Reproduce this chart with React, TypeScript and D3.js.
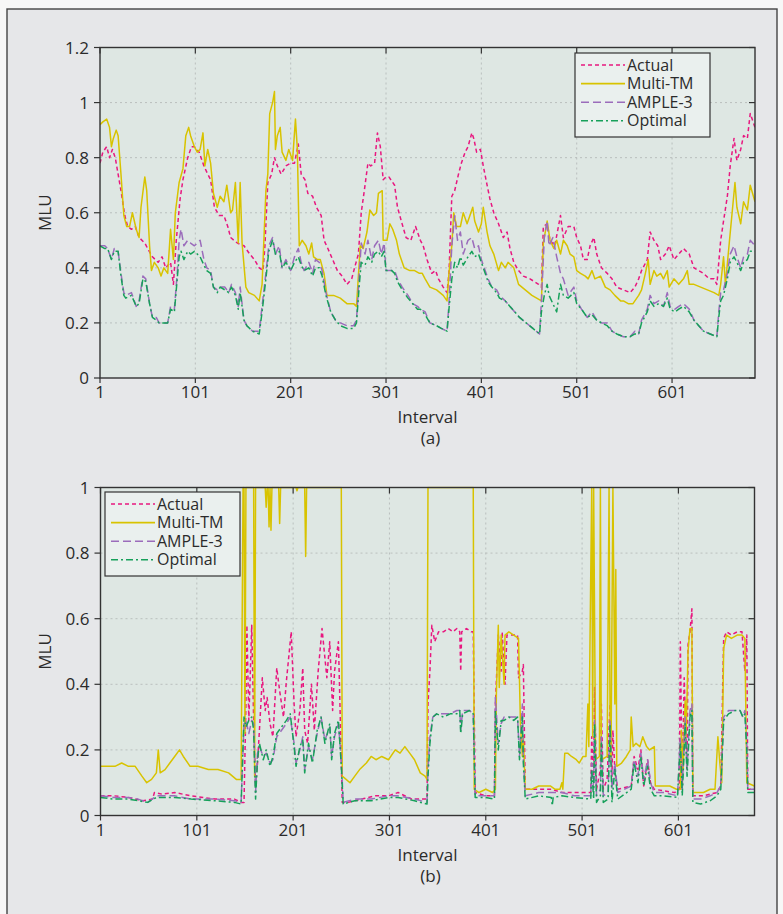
import React from 'react'
import { scaleLinear, line } from 'd3'

type Pt = [number, number]

const seriesNames = ['Actual', 'Multi-TM', 'AMPLE-3', 'Optimal']
const xTicks = [1, 101, 201, 301, 401, 501, 601]
const yTicksA = [0, 0.2, 0.4, 0.6, 0.8, 1, 1.2]
const yTicksB = [0, 0.2, 0.4, 0.6, 0.8, 1]

// panel (a): [interval, MLU]
const actualA: Pt[] = [[1,0.78],[4,0.82],[8,0.84],[11,0.80],[14,0.83],[17,0.80],[20,0.74],[23,0.68],[27,0.59],[30,0.55],[34,0.54],[38,0.55],[42,0.51],[48,0.49],[51,0.47],[56,0.44],[62,0.42],[66,0.44],[70,0.40],[75,0.42],[78,0.34],[81,0.50],[85,0.65],[88,0.72],[93,0.80],[97,0.84],[100,0.84],[105,0.82],[110,0.77],[114,0.74],[117,0.72],[121,0.62],[126,0.59],[131,0.59],[135,0.55],[138,0.51],[145,0.49],[152,0.48],[158,0.45],[163,0.43],[168,0.40],[172,0.39],[174,0.48],[177,0.71],[181,0.74],[184,0.80],[187,0.77],[191,0.74],[196,0.77],[201,0.78],[205,0.78],[209,0.85],[212,0.74],[216,0.72],[219,0.67],[224,0.66],[228,0.62],[233,0.59],[236,0.50],[240,0.47],[245,0.43],[250,0.39],[255,0.37],[260,0.34],[265,0.36],[268,0.40],[272,0.45],[275,0.60],[279,0.70],[282,0.78],[285,0.77],[289,0.78],[292,0.89],[295,0.84],[298,0.72],[301,0.73],[304,0.73],[310,0.70],[313,0.62],[317,0.57],[322,0.51],[327,0.50],[332,0.55],[337,0.50],[340,0.48],[344,0.43],[349,0.38],[353,0.39],[356,0.36],[361,0.33],[365,0.31],[367,0.38],[370,0.66],[373,0.68],[377,0.74],[380,0.78],[384,0.82],[387,0.84],[391,0.89],[393,0.87],[396,0.82],[400,0.83],[403,0.77],[407,0.70],[410,0.65],[414,0.60],[419,0.56],[424,0.51],[428,0.53],[431,0.47],[435,0.42],[440,0.39],[445,0.37],[452,0.36],[461,0.34],[464,0.33],[466,0.55],[470,0.56],[473,0.50],[478,0.48],[484,0.59],[487,0.51],[492,0.55],[498,0.55],[501,0.51],[505,0.48],[508,0.43],[512,0.43],[515,0.48],[519,0.51],[522,0.45],[527,0.40],[533,0.38],[538,0.36],[543,0.33],[550,0.32],[557,0.31],[562,0.33],[566,0.36],[569,0.39],[575,0.43],[578,0.53],[582,0.50],[586,0.48],[589,0.43],[594,0.45],[598,0.48],[603,0.43],[608,0.45],[613,0.47],[619,0.45],[624,0.40],[629,0.39],[634,0.38],[640,0.36],[645,0.36],[648,0.34],[652,0.50],[655,0.57],[659,0.66],[662,0.77],[666,0.87],[669,0.79],[673,0.83],[676,0.88],[680,0.87],[683,0.96],[688,0.91]]
const multiTmA: Pt[] = [[1,0.92],[4,0.93],[8,0.94],[11,0.91],[13,0.84],[15,0.87],[18,0.90],[20,0.88],[23,0.74],[26,0.59],[29,0.55],[32,0.55],[35,0.60],[39,0.54],[42,0.51],[44,0.62],[48,0.73],[50,0.68],[53,0.48],[55,0.39],[58,0.42],[62,0.40],[65,0.37],[68,0.40],[72,0.38],[75,0.54],[78,0.43],[80,0.60],[84,0.71],[88,0.76],[91,0.88],[94,0.91],[96,0.88],[100,0.84],[103,0.82],[106,0.83],[109,0.89],[111,0.77],[114,0.83],[117,0.78],[120,0.67],[124,0.62],[127,0.66],[131,0.64],[134,0.70],[138,0.60],[140,0.61],[143,0.71],[146,0.49],[148,0.71],[150,0.49],[154,0.33],[157,0.31],[163,0.30],[168,0.28],[171,0.34],[175,0.68],[177,0.74],[179,0.96],[182,1.00],[184,1.04],[185,0.83],[187,0.88],[190,0.91],[192,0.82],[196,0.79],[199,0.83],[203,0.79],[206,0.94],[208,0.83],[210,0.48],[213,0.50],[217,0.48],[220,0.45],[223,0.49],[225,0.44],[229,0.43],[232,0.43],[236,0.38],[239,0.30],[246,0.30],[253,0.29],[260,0.27],[267,0.27],[270,0.26],[274,0.48],[277,0.47],[281,0.53],[284,0.61],[288,0.59],[291,0.60],[293,0.67],[297,0.68],[298,0.50],[302,0.50],[305,0.56],[308,0.54],[312,0.50],[315,0.45],[320,0.40],[326,0.39],[331,0.39],[336,0.38],[339,0.38],[342,0.36],[347,0.33],[354,0.32],[361,0.30],[365,0.28],[367,0.38],[370,0.48],[372,0.60],[375,0.55],[379,0.55],[382,0.60],[386,0.56],[389,0.59],[392,0.62],[394,0.57],[398,0.53],[401,0.56],[403,0.62],[407,0.53],[410,0.48],[414,0.45],[419,0.39],[422,0.42],[426,0.40],[429,0.42],[435,0.40],[440,0.34],[447,0.32],[454,0.30],[459,0.29],[464,0.28],[466,0.49],[470,0.57],[473,0.50],[477,0.47],[480,0.50],[484,0.45],[487,0.50],[491,0.48],[494,0.45],[498,0.44],[501,0.39],[505,0.38],[510,0.37],[513,0.36],[517,0.39],[520,0.36],[526,0.37],[531,0.33],[536,0.32],[541,0.30],[547,0.28],[550,0.28],[555,0.27],[560,0.27],[566,0.30],[569,0.32],[573,0.38],[576,0.43],[578,0.34],[582,0.39],[585,0.37],[589,0.38],[592,0.36],[596,0.39],[598,0.33],[603,0.36],[608,0.34],[613,0.36],[617,0.39],[619,0.34],[624,0.34],[631,0.33],[638,0.32],[645,0.31],[650,0.30],[652,0.34],[655,0.44],[657,0.34],[661,0.49],[664,0.60],[667,0.71],[669,0.62],[673,0.56],[676,0.64],[680,0.61],[683,0.70],[688,0.64]]
const ampleA: Pt[] = [[1,0.48],[6,0.48],[9,0.47],[13,0.43],[16,0.47],[20,0.46],[23,0.38],[26,0.31],[28,0.30],[34,0.31],[39,0.26],[42,0.28],[46,0.37],[49,0.36],[53,0.27],[56,0.22],[60,0.22],[63,0.20],[68,0.20],[72,0.20],[75,0.26],[79,0.25],[82,0.38],[84,0.50],[86,0.54],[89,0.48],[93,0.50],[96,0.49],[100,0.48],[103,0.49],[106,0.50],[110,0.43],[113,0.40],[117,0.39],[120,0.33],[124,0.32],[127,0.33],[132,0.33],[136,0.31],[139,0.34],[143,0.31],[146,0.26],[148,0.33],[152,0.21],[155,0.19],[161,0.17],[168,0.17],[171,0.26],[175,0.38],[178,0.48],[182,0.51],[185,0.45],[189,0.48],[192,0.40],[196,0.43],[201,0.39],[205,0.44],[209,0.47],[212,0.42],[215,0.39],[220,0.42],[224,0.38],[227,0.43],[231,0.42],[234,0.39],[238,0.31],[243,0.24],[248,0.21],[253,0.20],[260,0.19],[267,0.19],[270,0.21],[273,0.38],[275,0.49],[279,0.45],[282,0.50],[286,0.43],[289,0.48],[293,0.50],[296,0.45],[299,0.49],[301,0.39],[307,0.39],[310,0.39],[313,0.36],[318,0.33],[324,0.30],[329,0.27],[334,0.26],[337,0.25],[342,0.24],[347,0.20],[354,0.19],[359,0.18],[365,0.17],[367,0.27],[370,0.48],[373,0.59],[376,0.50],[379,0.53],[382,0.45],[387,0.50],[391,0.51],[394,0.47],[398,0.48],[401,0.43],[405,0.39],[408,0.36],[412,0.33],[417,0.32],[420,0.30],[426,0.28],[431,0.26],[436,0.24],[441,0.22],[448,0.20],[455,0.18],[462,0.16],[464,0.28],[467,0.51],[470,0.57],[472,0.48],[476,0.51],[480,0.44],[484,0.38],[487,0.36],[492,0.30],[498,0.33],[501,0.28],[506,0.25],[512,0.22],[517,0.24],[522,0.21],[527,0.20],[533,0.20],[538,0.17],[543,0.16],[550,0.15],[557,0.15],[562,0.17],[566,0.16],[569,0.21],[575,0.25],[578,0.30],[582,0.27],[587,0.28],[592,0.26],[596,0.31],[599,0.26],[604,0.25],[608,0.26],[613,0.27],[619,0.25],[624,0.21],[629,0.19],[634,0.17],[641,0.16],[648,0.15],[650,0.24],[652,0.31],[655,0.32],[659,0.38],[662,0.45],[666,0.48],[669,0.44],[673,0.40],[676,0.44],[680,0.45],[683,0.50],[688,0.48]]
const optimalA: Pt[] = [[1,0.48],[6,0.47],[9,0.47],[13,0.43],[16,0.46],[20,0.46],[23,0.37],[26,0.30],[28,0.29],[34,0.30],[39,0.26],[42,0.27],[46,0.36],[49,0.35],[53,0.27],[56,0.22],[60,0.21],[63,0.20],[68,0.20],[72,0.20],[75,0.25],[79,0.24],[82,0.36],[84,0.44],[86,0.46],[89,0.43],[93,0.46],[96,0.45],[100,0.46],[103,0.45],[106,0.44],[110,0.41],[113,0.39],[117,0.38],[120,0.33],[124,0.31],[127,0.33],[132,0.32],[136,0.31],[139,0.33],[143,0.30],[146,0.25],[148,0.31],[152,0.21],[155,0.19],[161,0.17],[168,0.16],[171,0.24],[175,0.36],[178,0.46],[182,0.50],[185,0.45],[189,0.46],[192,0.40],[196,0.42],[201,0.39],[205,0.42],[209,0.44],[212,0.41],[215,0.39],[220,0.40],[224,0.37],[227,0.40],[231,0.40],[234,0.37],[238,0.30],[243,0.24],[248,0.21],[253,0.19],[260,0.18],[267,0.18],[270,0.20],[273,0.34],[275,0.42],[279,0.41],[282,0.44],[286,0.42],[289,0.45],[293,0.46],[296,0.44],[299,0.46],[301,0.39],[307,0.39],[310,0.38],[313,0.35],[318,0.32],[324,0.29],[329,0.27],[334,0.25],[337,0.25],[342,0.23],[347,0.20],[354,0.19],[359,0.18],[365,0.17],[367,0.25],[370,0.36],[373,0.42],[376,0.40],[379,0.44],[382,0.41],[387,0.44],[391,0.46],[394,0.44],[398,0.45],[401,0.42],[405,0.38],[408,0.35],[412,0.33],[417,0.31],[420,0.29],[426,0.28],[431,0.26],[436,0.24],[441,0.22],[448,0.20],[455,0.18],[462,0.16],[464,0.24],[467,0.30],[470,0.34],[472,0.30],[476,0.27],[480,0.24],[484,0.34],[487,0.30],[492,0.29],[498,0.31],[501,0.27],[506,0.25],[512,0.22],[517,0.23],[522,0.21],[527,0.20],[533,0.19],[538,0.17],[543,0.16],[550,0.15],[557,0.15],[562,0.16],[566,0.16],[569,0.20],[575,0.24],[578,0.28],[582,0.26],[587,0.27],[592,0.26],[596,0.29],[599,0.25],[604,0.24],[608,0.25],[613,0.26],[619,0.24],[624,0.21],[629,0.19],[634,0.17],[641,0.16],[648,0.15],[650,0.22],[652,0.28],[655,0.30],[659,0.36],[662,0.42],[666,0.44],[669,0.42],[673,0.39],[676,0.42],[680,0.43],[683,0.46],[688,0.46]]

// panel (b)
const actualB: Pt[] = [[1,0.06],[15,0.06],[30,0.055],[45,0.045],[55,0.05],[57,0.07],[65,0.065],[78,0.07],[95,0.06],[120,0.05],[140,0.05],[147,0.04],[150,0.04],[152,0.34],[153,0.58],[155,0.29],[157,0.48],[158,0.58],[160,0.29],[162,0.09],[164,0.16],[166,0.26],[169,0.42],[172,0.32],[174,0.36],[177,0.28],[180,0.24],[184,0.45],[187,0.38],[191,0.30],[194,0.41],[199,0.56],[202,0.34],[204,0.24],[208,0.32],[211,0.45],[213,0.26],[216,0.22],[220,0.40],[223,0.26],[227,0.44],[231,0.57],[236,0.42],[239,0.53],[242,0.32],[244,0.44],[248,0.53],[250,0.29],[252,0.04],[258,0.04],[272,0.05],[286,0.06],[300,0.06],[310,0.07],[324,0.05],[340,0.05],[341,0.34],[343,0.44],[345,0.58],[348,0.53],[352,0.56],[357,0.56],[362,0.57],[367,0.56],[371,0.57],[374,0.56],[375,0.44],[376,0.56],[381,0.57],[386,0.56],[388,0.56],[390,0.07],[401,0.06],[410,0.06],[411,0.34],[414,0.55],[417,0.44],[418,0.56],[421,0.40],[423,0.55],[428,0.55],[434,0.55],[435,0.42],[439,0.44],[440,0.46],[442,0.08],[459,0.08],[469,0.08],[480,0.07],[500,0.07],[510,0.07],[511,0.24],[513,0.11],[514,0.39],[516,0.08],[520,0.14],[521,0.34],[523,0.08],[527,0.11],[530,0.34],[532,0.12],[533,0.26],[535,0.14],[538,0.08],[552,0.09],[555,0.18],[559,0.14],[562,0.20],[565,0.09],[569,0.17],[572,0.10],[576,0.08],[597,0.07],[602,0.08],[603,0.53],[605,0.08],[607,0.42],[610,0.14],[611,0.52],[613,0.56],[615,0.63],[616,0.06],[627,0.06],[641,0.07],[645,0.09],[648,0.54],[651,0.56],[656,0.55],[662,0.56],[667,0.56],[670,0.44],[672,0.55],[673,0.08],[680,0.08]]
const multiTmB: Pt[] = [[1,0.15],[9,0.15],[16,0.15],[23,0.16],[30,0.15],[37,0.15],[44,0.12],[49,0.10],[54,0.11],[59,0.13],[61,0.20],[63,0.13],[68,0.14],[73,0.16],[78,0.18],[83,0.20],[87,0.18],[94,0.15],[102,0.15],[113,0.14],[123,0.14],[134,0.13],[142,0.11],[147,0.11],[149,1.0],[150,1.0],[151,0.25],[152,1.0],[160,1.0],[161,0.12],[162,1.0],[172,1.0],[173,0.94],[174,1.0],[175,1.0],[176,0.88],[177,1.0],[178,0.87],[179,1.0],[186,1.0],[187,0.89],[188,1.0],[204,1.0],[205,0.99],[206,1.0],[213,1.0],[214,0.79],[215,1.0],[251,1.0],[252,0.12],[256,0.11],[260,0.10],[265,0.12],[270,0.14],[277,0.16],[282,0.18],[287,0.17],[293,0.18],[300,0.17],[307,0.20],[312,0.19],[317,0.21],[322,0.19],[327,0.17],[333,0.13],[338,0.12],[340,0.11],[341,1.0],[388,1.0],[389,0.08],[394,0.07],[401,0.08],[408,0.07],[411,0.08],[412,0.37],[414,0.58],[415,0.39],[417,0.55],[420,0.40],[421,0.55],[425,0.56],[430,0.55],[435,0.54],[437,0.28],[439,0.18],[440,0.24],[442,0.08],[449,0.08],[456,0.09],[463,0.09],[468,0.09],[473,0.08],[478,0.08],[480,0.10],[481,0.08],[483,0.19],[486,0.19],[490,0.18],[495,0.17],[498,0.16],[502,0.18],[505,0.18],[507,0.34],[508,0.21],[511,1.0],[512,0.24],[513,1.0],[515,0.17],[519,0.18],[520,1.0],[521,0.17],[527,0.18],[529,1.0],[530,0.29],[531,0.17],[533,1.0],[535,0.34],[536,0.75],[537,0.15],[542,0.16],[547,0.18],[551,0.20],[552,0.30],[554,0.21],[557,0.22],[561,0.21],[564,0.24],[568,0.21],[571,0.20],[576,0.21],[577,0.09],[583,0.09],[592,0.09],[599,0.08],[603,0.08],[604,0.26],[606,0.14],[608,0.35],[609,0.24],[611,0.50],[613,0.57],[615,0.57],[616,0.07],[620,0.07],[627,0.07],[634,0.08],[639,0.08],[642,0.24],[644,0.16],[646,0.10],[648,0.51],[651,0.55],[656,0.54],[662,0.55],[667,0.55],[670,0.54],[672,0.10],[680,0.09]]
const ampleB: Pt[] = [[1,0.06],[15,0.055],[30,0.055],[40,0.05],[50,0.04],[59,0.06],[78,0.06],[95,0.05],[120,0.05],[140,0.045],[147,0.04],[150,0.28],[152,0.29],[155,0.25],[158,0.29],[160,0.28],[162,0.07],[164,0.19],[166,0.21],[170,0.18],[173,0.19],[177,0.16],[180,0.17],[184,0.24],[189,0.26],[194,0.28],[198,0.30],[202,0.22],[204,0.16],[208,0.20],[211,0.24],[213,0.14],[217,0.21],[221,0.17],[226,0.25],[230,0.30],[234,0.23],[239,0.27],[241,0.18],[244,0.24],[248,0.28],[251,0.17],[253,0.04],[265,0.05],[282,0.05],[300,0.06],[310,0.06],[327,0.05],[340,0.04],[341,0.14],[343,0.24],[346,0.30],[350,0.31],[357,0.31],[364,0.31],[371,0.32],[374,0.32],[375,0.26],[377,0.32],[384,0.32],[388,0.31],[390,0.06],[401,0.06],[410,0.06],[411,0.36],[414,0.22],[417,0.28],[420,0.30],[425,0.30],[430,0.30],[434,0.30],[436,0.18],[439,0.34],[440,0.18],[442,0.06],[456,0.07],[469,0.07],[480,0.07],[493,0.06],[510,0.06],[511,0.16],[513,0.08],[514,0.29],[516,0.06],[520,0.08],[521,0.24],[523,0.06],[528,0.07],[530,0.29],[532,0.08],[535,0.16],[538,0.07],[552,0.09],[555,0.17],[559,0.12],[562,0.19],[565,0.11],[569,0.17],[572,0.10],[576,0.07],[586,0.07],[600,0.06],[603,0.24],[605,0.08],[608,0.30],[610,0.14],[613,0.32],[615,0.34],[616,0.05],[624,0.05],[634,0.06],[641,0.07],[645,0.09],[648,0.30],[653,0.32],[660,0.32],[665,0.32],[668,0.30],[670,0.32],[672,0.22],[673,0.08],[680,0.08]]
const optimalB: Pt[] = [[1,0.055],[15,0.05],[30,0.05],[40,0.045],[50,0.04],[59,0.055],[78,0.055],[95,0.05],[120,0.045],[140,0.04],[147,0.035],[150,0.30],[152,0.27],[155,0.29],[158,0.30],[160,0.26],[162,0.05],[164,0.17],[166,0.22],[170,0.17],[173,0.20],[177,0.15],[180,0.18],[184,0.25],[189,0.27],[194,0.29],[198,0.31],[202,0.21],[204,0.15],[208,0.21],[211,0.23],[213,0.13],[217,0.22],[221,0.16],[226,0.26],[230,0.30],[234,0.22],[239,0.28],[241,0.17],[244,0.25],[248,0.29],[251,0.15],[253,0.035],[265,0.045],[282,0.045],[300,0.055],[310,0.055],[327,0.045],[340,0.035],[341,0.12],[343,0.22],[346,0.30],[350,0.31],[357,0.30],[364,0.31],[371,0.31],[374,0.32],[375,0.25],[377,0.31],[384,0.32],[388,0.31],[390,0.055],[401,0.055],[410,0.05],[411,0.32],[414,0.20],[417,0.29],[420,0.29],[425,0.30],[430,0.29],[434,0.30],[436,0.17],[439,0.30],[440,0.16],[442,0.05],[456,0.06],[469,0.055],[470,0.03],[471,0.055],[480,0.06],[493,0.055],[510,0.05],[511,0.14],[513,0.05],[514,0.28],[516,0.04],[520,0.06],[521,0.22],[523,0.04],[528,0.05],[530,0.28],[532,0.04],[535,0.14],[538,0.05],[552,0.08],[555,0.16],[559,0.10],[562,0.18],[565,0.09],[569,0.15],[572,0.08],[576,0.06],[586,0.06],[600,0.055],[603,0.22],[605,0.06],[608,0.28],[610,0.12],[613,0.30],[615,0.32],[616,0.04],[624,0.035],[634,0.045],[641,0.06],[645,0.08],[648,0.29],[653,0.31],[660,0.32],[665,0.32],[668,0.30],[670,0.31],[672,0.20],[673,0.07],[680,0.07]]

const lineStyles = [
  { color: '#e8177f', dash: '4,3' },
  { color: '#d8c300', dash: undefined },
  { color: '#9b6cbb', dash: '8,4' },
  { color: '#16a05a', dash: '7,3,2,3' },
]

const FONT = '"Open Sans", "Noto Sans", sans-serif'
const INK = '#2b2b2b'

type PanelProps = {
  id: string
  series: Pt[][]
  xMax: number
  yMax: number
  yTicks: number[]
  left: number
  right: number
  top: number
  bottom: number
  legendX: number
  legendY: number
  caption: string
}

const Panel = ({ id, series, xMax, yMax, yTicks, left, right, top, bottom, legendX, legendY, caption }: PanelProps) => {
  const x = scaleLinear().domain([1, xMax]).range([left, right])
  const y = scaleLinear().domain([0, yMax]).range([bottom, top])
  const path = line<Pt>().x(d => x(d[0])).y(d => y(d[1]))
  const midX = (left + right) / 2

  return (
    <g>
      <defs>
        <clipPath id={`clip-${id}`}>
          <rect x={left} y={top - 1} width={right - left} height={bottom - top + 2} />
        </clipPath>
      </defs>
      <rect x={left} y={top} width={right - left} height={bottom - top} fill="#dee7e3" />

      {/* grid */}
      {xTicks.filter(t => t !== 1).map(t => (
        <line key={'gx' + t} x1={x(t)} x2={x(t)} y1={top} y2={bottom} stroke="#b6bbba" strokeWidth={0.9} strokeDasharray="2,3" />
      ))}
      {yTicks.filter(t => t > 0 && t < yMax).map(t => (
        <line key={'gy' + t} x1={left} x2={right} y1={y(t)} y2={y(t)} stroke="#b6bbba" strokeWidth={0.9} strokeDasharray="2,3" />
      ))}

      {/* series */}
      <g clipPath={`url(#clip-${id})`}>
        {series.map((s, i) => (
          <path key={i} d={path(s) || ''} fill="none" stroke={lineStyles[i].color} strokeWidth={1.5}
            strokeDasharray={lineStyles[i].dash} strokeLinejoin="round" />
        ))}
      </g>

      {/* frame and ticks */}
      <rect x={left} y={top} width={right - left} height={bottom - top} fill="none" stroke="#333" strokeWidth={1.4} />
      {xTicks.map(t => (
        <g key={'tx' + t}>
          <line x1={x(t)} x2={x(t)} y1={bottom} y2={bottom + 5} stroke="#333" strokeWidth={1.2} />
          <line x1={x(t)} x2={x(t)} y1={top} y2={top + 6} stroke="#333" strokeWidth={1.2} />
          <text x={x(t)} y={bottom + 20} textAnchor="middle" fontSize={17} fontFamily={FONT} fill={INK}>{t}</text>
        </g>
      ))}
      {yTicks.map(t => (
        <g key={'ty' + t}>
          <line x1={left - 6} x2={left} y1={y(t)} y2={y(t)} stroke="#333" strokeWidth={1.2} />
          <line x1={right - 6} x2={right} y1={y(t)} y2={y(t)} stroke="#333" strokeWidth={1.2} />
          <text x={left - 11} y={y(t) + 6} textAnchor="end" fontSize={17} fontFamily={FONT} fill={INK}>{String(t)}</text>
        </g>
      ))}

      <text transform={`translate(51,${(top + bottom) / 2}) rotate(-90)`} textAnchor="middle" fontSize={17} fontFamily={FONT} fill={INK}>MLU</text>
      <text x={midX} y={bottom + 45} textAnchor="middle" fontSize={17} fontFamily={FONT} fill={INK}>Interval</text>
      <text x={midX + 3} y={bottom + 66} textAnchor="middle" fontSize={17} fontFamily={FONT} fill={INK}>{caption}</text>

      {/* legend */}
      <rect x={legendX} y={legendY} width={135} height={84} fill="#eaf0ee" stroke="#333" strokeWidth={1.2} />
      {seriesNames.map((name, i) => {
        const ly = legendY + 12 + i * 18.6
        return (
          <g key={name}>
            <line x1={legendX + 6} x2={legendX + 50} y1={ly} y2={ly} stroke={lineStyles[i].color} strokeWidth={1.6}
              strokeDasharray={lineStyles[i].dash} />
            <text x={legendX + 52} y={ly + 5.5} fontSize={16} fontFamily={FONT} fill={INK}>{name}</text>
          </g>
        )
      })}
    </g>
  )
}

export default function App() {
  return (
    <svg width={783} height={914} style={{ position: 'absolute', left: 0, top: 0, display: 'block' }}>
      <rect x={0} y={0} width={783} height={914} fill="#f7f7f7" />
      <rect x={7} y={9} width={770} height={920} fill="#e6e7e9" stroke="#444" strokeWidth={1.4} />
      <Panel id="a" series={[actualA, multiTmA, ampleA, optimalA]} xMax={688} yMax={1.2} yTicks={yTicksA}
        left={100} right={755} top={47.5} bottom={378} legendX={575} legendY={53} caption="(a)" />
      <Panel id="b" series={[actualB, multiTmB, ampleB, optimalB]} xMax={680} yMax={1} yTicks={yTicksB}
        left={100.5} right={754.5} top={487.5} bottom={815.5} legendX={105} legendY={492} caption="(b)" />
    </svg>
  )
}
